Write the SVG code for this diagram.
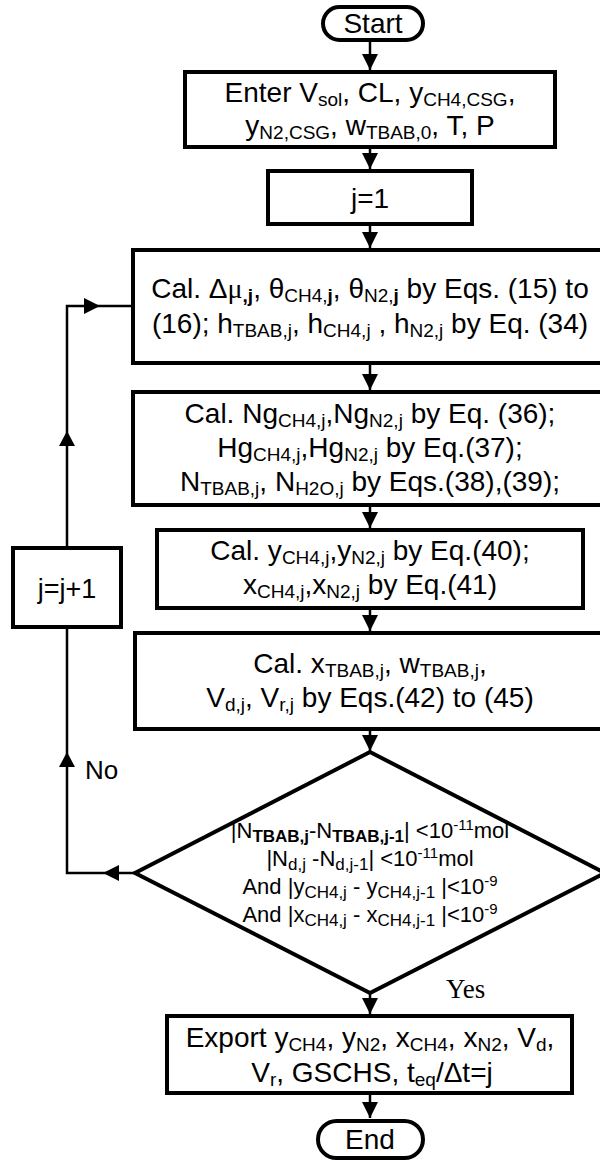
<svg xmlns="http://www.w3.org/2000/svg" width="600" height="1162" viewBox="0 0 600 1162">
<defs>
<style>
.box{fill:#fff;stroke:#000;stroke-width:4}
.ln{fill:none;stroke:#000;stroke-width:2.5}
.ah{fill:#000;stroke:none}
.t{font-family:"Liberation Sans",Arial,sans-serif;font-size:28px;text-anchor:middle;fill:#000}
.s{font-size:19px}
.b{font-weight:bold}
.d{font-family:"Liberation Sans",Arial,sans-serif;font-size:22px;text-anchor:middle;fill:#000}
.ds{font-size:17px}
.sp{font-size:15px}
.mu{font-family:"Liberation Serif","Times New Roman",serif}
.yes{font-family:"Liberation Serif","Times New Roman",serif;font-size:27px;fill:#000}
</style>
<marker id="ah" markerWidth="16" markerHeight="16" refX="16" refY="8" orient="auto" markerUnits="userSpaceOnUse"><path d="M0,0L16,8L0,16z" fill="#000"/></marker>
</defs>

<g id="connectors">
<path class="ln" d="M370,40V70" marker-end="url(#ah)"/>
<path class="ln" d="M370,149V169" marker-end="url(#ah)"/>
<path class="ln" d="M370,226V248" marker-end="url(#ah)"/>
<path class="ln" d="M370,365V390" marker-end="url(#ah)"/>
<path class="ln" d="M370,507V528" marker-end="url(#ah)"/>
<path class="ln" d="M370,610V631" marker-end="url(#ah)"/>
<path class="ln" d="M370,731V751" marker-end="url(#ah)"/>
<path class="ln" d="M370,994V1014" marker-end="url(#ah)"/>
<path class="ln" d="M370,1095V1118" marker-end="url(#ah)"/>
<path class="ln" d="M135,873H67V627"/>
<path class="ah" d="M103,873L119,865L119,881z"/>
<path class="ah" d="M67,752L59,767L75,767z"/>
<path class="ln" d="M67,548V306H133"/>
<path class="ah" d="M67,431L59,446L75,446z"/>
<path class="ah" d="M100,306L84,298L84,314z"/>
<text x="85" y="779" class="t" style="text-anchor:start;font-size:26px">No</text>
<text x="446" y="998" class="yes">Yes</text>
</g>

<g id="start">
<rect class="box" x="323" y="7" width="100" height="33" rx="16.5"/>
<text x="373" y="33" class="t">Start</text>
</g>

<g id="enter">
<rect class="box" x="185" y="72" width="370" height="75"/>
<text x="370" y="102" class="t">Enter V<tspan class="s" dy="4">sol</tspan><tspan dy="-4">, CL, y</tspan><tspan class="s" dy="4">CH4,CSG</tspan><tspan dy="-4">,</tspan></text>
<text x="370" y="135" class="t">y<tspan class="s" dy="4">N2,CSG</tspan><tspan dy="-4">, w</tspan><tspan class="s" dy="4">TBAB,0</tspan><tspan dy="-4">, T, P</tspan></text>
</g>

<g id="j1">
<rect class="box" x="268" y="171" width="204" height="53"/>
<text x="370" y="208" class="t">j=1</text>
</g>

<g id="calc1">
<rect class="box" x="133" y="250" width="471" height="113"/>
<text x="370" y="298" class="t">Cal. Δ<tspan class="mu">μ</tspan><tspan class="s b" dy="4">,j</tspan><tspan dy="-4">, θ</tspan><tspan class="s" dy="4">CH4,</tspan><tspan class="s b">j</tspan><tspan dy="-4">, θ</tspan><tspan class="s" dy="4">N2,</tspan><tspan class="s b">j</tspan><tspan dy="-4"> by Eqs. (15) to</tspan></text>
<text x="370" y="333" class="t">(16); h<tspan class="s" dy="4">TBAB,j</tspan><tspan dy="-4">,  h</tspan><tspan class="s" dy="4">CH4,j</tspan><tspan dy="-4"> , h</tspan><tspan class="s" dy="4">N2,j</tspan><tspan dy="-4"> by Eq. (34)</tspan></text>
</g>

<g id="calc2">
<rect class="box" x="133" y="392" width="471" height="113"/>
<text x="370" y="423" class="t">Cal. Ng<tspan class="s" dy="4">CH4,j</tspan><tspan dy="-4">,Ng</tspan><tspan class="s" dy="4">N2,j</tspan><tspan dy="-4"> by Eq. (36);</tspan></text>
<text x="370" y="457" class="t">Hg<tspan class="s" dy="4">CH4,j</tspan><tspan dy="-4">,Hg</tspan><tspan class="s" dy="4">N2,j</tspan><tspan dy="-4"> by Eq.(37);</tspan></text>
<text x="370" y="491" class="t">N<tspan class="s" dy="4">TBAB,j</tspan><tspan dy="-4">, N</tspan><tspan class="s" dy="4">H2O,j</tspan><tspan dy="-4"> by Eqs.(38),(39);</tspan></text>
</g>

<g id="calc3">
<rect class="box" x="157" y="530" width="426" height="78"/>
<text x="370" y="560" class="t">Cal. y<tspan class="s" dy="4">CH4,j</tspan><tspan dy="-4">,y</tspan><tspan class="s" dy="4">N2,j</tspan><tspan dy="-4"> by Eq.(40);</tspan></text>
<text x="370" y="594" class="t">x<tspan class="s" dy="4">CH4,j</tspan><tspan dy="-4">,x</tspan><tspan class="s" dy="4">N2,j</tspan><tspan dy="-4">  by Eq.(41)</tspan></text>
</g>

<g id="calc4">
<rect class="box" x="135" y="633" width="469" height="96"/>
<text x="370" y="673" class="t">Cal. x<tspan class="s" dy="4">TBAB,j</tspan><tspan dy="-4">, w</tspan><tspan class="s" dy="4">TBAB,j</tspan><tspan dy="-4">,</tspan></text>
<text x="370" y="707" class="t">V<tspan class="s" dy="4">d,j</tspan><tspan dy="-4">, V</tspan><tspan class="s" dy="4">r,j</tspan><tspan dy="-4"> by Eqs.(42) to (45)</tspan></text>
</g>

<g id="jinc">
<rect class="box" x="13" y="548" width="108" height="79"/>
<text x="67" y="598" class="t" style="font-size:27px">j=j+1</text>
</g>

<g id="decision">
<path class="box" d="M370,752L605,873L370,993L135,873z"/>
<text x="370" y="838" class="d">|N<tspan class="ds b" dy="4">TBAB,j</tspan><tspan dy="-4">-N</tspan><tspan class="ds b" dy="4">TBAB,j-1</tspan><tspan dy="-4">| &lt;10</tspan><tspan class="sp" dy="-8">-11</tspan><tspan dy="8">mol</tspan></text>
<text x="370" y="866" class="d">|N<tspan class="ds" dy="4">d,j</tspan><tspan dy="-4"> -N</tspan><tspan class="ds" dy="4">d,j-1</tspan><tspan dy="-4">| &lt;10</tspan><tspan class="sp" dy="-8">-11</tspan><tspan dy="8">mol</tspan></text>
<text x="370" y="894" class="d">And |y<tspan class="ds" dy="4">CH4,j</tspan><tspan dy="-4"> - y</tspan><tspan class="ds" dy="4">CH4,j-1</tspan><tspan dy="-4"> |&lt;10</tspan><tspan class="sp" dy="-8">-9</tspan></text>
<text x="370" y="922" class="d">And |x<tspan class="ds" dy="4">CH4,j</tspan><tspan dy="-4"> - x</tspan><tspan class="ds" dy="4">CH4,j-1</tspan><tspan dy="-4"> |&lt;10</tspan><tspan class="sp" dy="-8">-9</tspan></text>
</g>

<g id="export">
<rect class="box" x="167" y="1016" width="405" height="77"/>
<text x="370" y="1047" class="t">Export y<tspan class="s" dy="4">CH4</tspan><tspan dy="-4">, y</tspan><tspan class="s" dy="4">N2</tspan><tspan dy="-4">, x</tspan><tspan class="s" dy="4">CH4</tspan><tspan dy="-4">, x</tspan><tspan class="s" dy="4">N2</tspan><tspan dy="-4">, V</tspan><tspan class="s" dy="4">d</tspan><tspan dy="-4">,</tspan></text>
<text x="372" y="1082" class="t">V<tspan class="s" dy="4">r</tspan><tspan dy="-4">, GSCHS, t</tspan><tspan class="s" dy="4">eq</tspan><tspan dy="-4">/Δt=j</tspan></text>
</g>

<g id="end">
<rect class="box" x="318" y="1121" width="105" height="37" rx="18.5"/>
<text x="370" y="1149" class="t">End</text>
</g>
</svg>
